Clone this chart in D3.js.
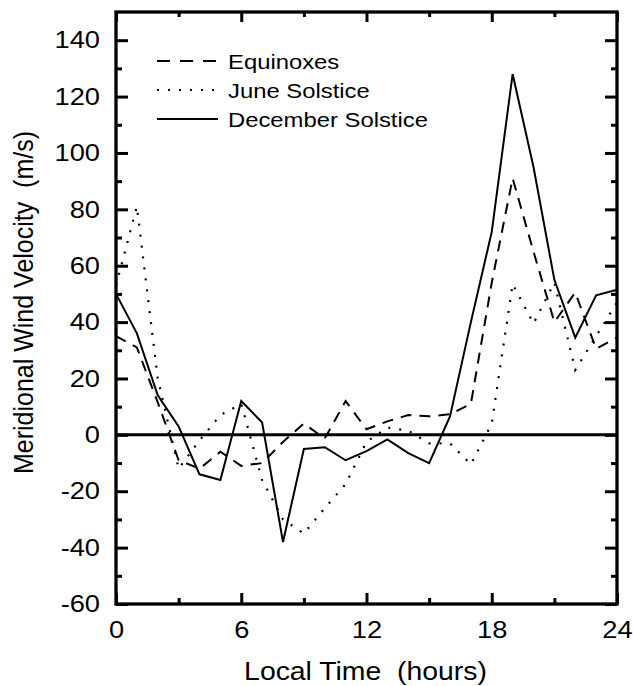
<!DOCTYPE html>
<html>
<head>
<meta charset="utf-8">
<script src="https://cdn.jsdelivr.net/npm/d3@7"></script>
<style>
  body { margin: 0; background: #fff; }
  svg text { font-family: "Liberation Sans", Arial, sans-serif; fill: #000; }
  .ytick text { transform-box: fill-box; transform-origin: right center; transform: scaleX(1.135); }
  .xtick text { transform-box: fill-box; transform-origin: center center; transform: scaleX(1.135); }
</style>
</head>
<body>
<svg id="chart" width="633" height="686"></svg>
<script>
// local time (hours)
var hours = d3.range(0, 25);

// meridional wind velocity (m/s)
var equinoxes = [35, 31, 11.5, -9, -12, -6, -11, -10, -2.5, 4, -1.3, 12, 2, 4.8, 7, 6.6, 7.3, 11, 54, 91, 65, 40, 50.5, 30.5, 34.5];
var juneSolstice = [53, 81, 20, -12, -2, 7, 11, -16, -30, -35, -26, -17.5, -2.5, 2.6, 1.5, -3, -3, -10.5, 4, 53.5, 39.5, 54, 23, 35, 47];
var decemberSolstice = [50, 36, 14, 3, -14, -16, 12, 4.4, -38, -5, -4.4, -9, -5.8, -1.6, -6.5, -10, 6.5, 40, 72, 128, 95, 55, 34.5, 49.5, 51.5];

var seriesNames = ["Equinoxes", "June Solstice", "December Solstice"];

var yMajor = d3.range(-60, 141, 20),
    yMinor = d3.range(-50, 140, 20),
    xMajor = [0, 6, 12, 18, 24],
    xMinor = [3, 9, 15, 21];

var margin = {top: 12, right: 16, bottom: 82, left: 116},
    width = 633 - margin.left - margin.right,
    height = 686 - margin.top - margin.bottom,
    stretch = 1.135;

var svg = d3.select("#chart");
var g = svg.append("g").attr("transform", "translate(" + margin.left + "," + margin.top + ")");

var x = d3.scaleLinear().domain([0, 24]).range([0, width]);
var y = d3.scaleLinear().domain([-60, 150]).range([height, 0]);

var styles = [
  {dash: "11,8", w: 2},
  {dash: "2,9", w: 2.2},
  {dash: null, w: 2}
];

// zero line
g.append("line")
  .attr("x1", 0).attr("x2", width)
  .attr("y1", y(0)).attr("y2", y(0))
  .attr("stroke", "#000").attr("stroke-width", 3);

// series
var line = d3.line().x((d, i) => x(hours[i])).y(d => y(d));
[equinoxes, juneSolstice, decemberSolstice].forEach(function(vals, i) {
  g.append("path")
    .datum(vals)
    .attr("d", line)
    .attr("fill", "none")
    .attr("stroke", "#000")
    .attr("stroke-width", styles[i].w)
    .attr("stroke-dasharray", styles[i].dash);
});

// axes, ticks point inward; plain hyphen for negatives
var plain = d => String(d);

function tidy(sel) {
  sel.select(".domain").remove();
  sel.selectAll(".tick line").attr("stroke", "#000").attr("stroke-width", 3);
}

g.append("g").attr("class", "ytick")
  .call(d3.axisLeft(y).tickValues(yMajor).tickSize(-12).tickPadding(16).tickFormat(plain))
  .call(tidy)
  .selectAll("text").style("font-size", "24px");
g.append("g")
  .call(d3.axisLeft(y).tickValues(yMinor).tickSize(-6).tickFormat(""))
  .call(tidy);
g.append("g").attr("transform", "translate(" + width + ",0)")
  .call(d3.axisRight(y).tickValues(yMajor).tickSize(-12).tickFormat(""))
  .call(tidy);
g.append("g").attr("transform", "translate(" + width + ",0)")
  .call(d3.axisRight(y).tickValues(yMinor).tickSize(-6).tickFormat(""))
  .call(tidy);

g.append("g").attr("class", "xtick").attr("transform", "translate(0," + height + ")")
  .call(d3.axisBottom(x).tickValues(xMajor).tickSize(-11).tickPadding(17).tickFormat(plain))
  .call(tidy)
  .selectAll("text").style("font-size", "24px");
g.append("g").attr("transform", "translate(0," + height + ")")
  .call(d3.axisBottom(x).tickValues(xMinor).tickSize(-6).tickFormat(""))
  .call(tidy);
g.append("g")
  .call(d3.axisTop(x).tickValues(xMajor).tickSize(-10).tickFormat(""))
  .call(tidy);
g.append("g")
  .call(d3.axisTop(x).tickValues(xMinor).tickSize(-5).tickFormat(""))
  .call(tidy);

// frame
g.append("rect")
  .attr("width", width).attr("height", height)
  .attr("fill", "none").attr("stroke", "#000").attr("stroke-width", 3.3);

// axis titles
svg.append("text")
  .attr("transform", "translate(" + (margin.left + width / 2 - 1) + ",680) scale(" + stretch + ",1)")
  .attr("text-anchor", "middle")
  .style("font-size", "25px")
  .style("white-space", "pre")
  .text("Local Time  (hours)");

svg.append("text")
  .attr("transform", "translate(33," + (margin.top + 290.5) + ") rotate(-90) scale(1," + stretch + ")")
  .attr("text-anchor", "middle")
  .style("font-size", "25px")
  .style("white-space", "pre")
  .text("Meridional Wind Velocity  (m/s)");

// legend
var legend = g.append("g").attr("transform", "translate(41,49)");
seriesNames.forEach(function(name, i) {
  var row = legend.append("g").attr("transform", "translate(0," + (i * 29) + ")");
  row.append("line")
    .attr("x1", 0).attr("x2", 61)
    .attr("stroke", "#000")
    .attr("stroke-width", styles[i].w)
    .attr("stroke-dasharray", i === 0 ? "13,10" : styles[i].dash);
  row.append("text")
    .attr("transform", "translate(71,7.5) scale(" + stretch + ",1)")
    .style("font-size", "21px")
    .text(name);
});
</script>
</body>
</html>
